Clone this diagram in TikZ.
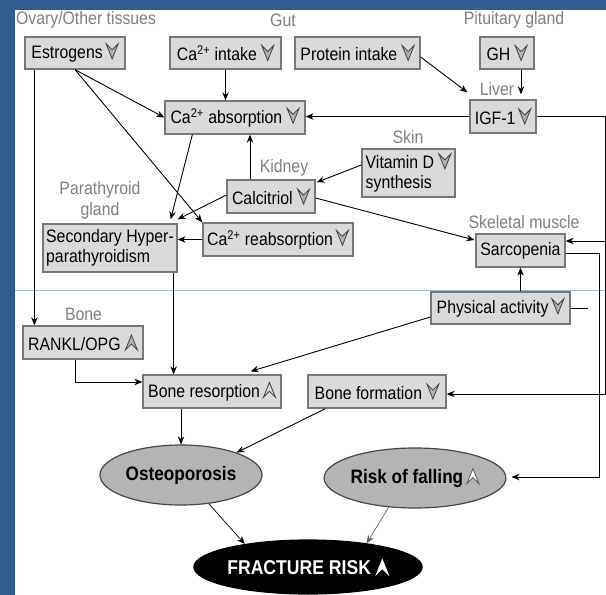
\documentclass[tikz,border=0pt]{standalone}
\usepackage{fontspec}
\setmainfont{Liberation Sans}[FakeStretch=0.88]
\usetikzlibrary{arrows.meta,calc,shapes.geometric}
\definecolor{bgblue}{RGB}{50,92,142}
\definecolor{lblgray}{RGB}{128,128,128}
\definecolor{boxfill}{RGB}{218,218,218}
\definecolor{boxline}{RGB}{120,120,120}
\definecolor{ellfill}{RGB}{180,180,180}
\definecolor{faint}{RGB}{165,185,212}
\newcommand\dsym[1][gray!60]{\tikz[baseline=0pt,x=1pt,y=1pt]\filldraw[line width=0.8pt,draw=black!75,fill=#1,line join=miter](0,0)--(-6,15)--(0,9)--(6,15)--cycle;}
\newcommand\usym[2]{\tikz[baseline=0pt,x=1pt,y=1pt]\filldraw[line width=0.8pt,draw=#2,fill=#1,line join=miter](0,15)--(-6,0)--(0,6)--(6,0)--cycle;}
\begin{document}
\begin{tikzpicture}[x=1pt,y=-1pt,
  font=\fontsize{18}{20}\selectfont,
  box/.style={draw=boxline,fill=boxfill,line width=1.3pt,minimum height=33pt,inner sep=2pt},
  lbl/.style={text=lblgray,inner sep=0pt},
  ell/.style={ellipse,draw=gray!55!black,fill=ellfill,line width=1.2pt,inner sep=0pt,font=\fontsize{19.5}{21}\selectfont\bfseries},
  arr/.style={-{Stealth[length=8pt,width=6.5pt]},line width=0.9pt},
  con/.style={line width=0.9pt}]
\useasboundingbox (0,0) rectangle (606,595);
\fill[bgblue] (0,0) rectangle (606,595);
\fill[white] (15,10) rectangle (606,595);
\draw[faint,line width=0.8pt] (15,290) -- (606,290);

% labels
\node[lbl] (lovary) at (86,20) {Ovary/Other tissues};
\node[lbl] (lgut) at (283,20) {Gut};
\node[lbl] (lpit) at (514,20) {Pituitary gland};
\node[lbl] (lliver) at (497,89) {Liver};
\node[lbl] (lskin) at (408,137) {Skin};
\node[lbl] (lkid) at (284,168) {Kidney};
\node[lbl,align=center,font=\fontsize{18}{21}\selectfont] (lpara) at (100,200) {Parathyroid\\gland};
\node[lbl] (lskel) at (524,222) {Skeletal muscle};
\node[lbl] (lbone) at (83.5,314) {Bone};

% boxes
\node[box,minimum width=100pt,minimum height=32pt] (estr) at (75,53) {Estrogens\,\dsym};
\node[box,minimum width=111pt,minimum height=32pt] (caint) at (225.5,53) {Ca\textsuperscript{2+} intake \dsym};
\node[box,minimum width=125pt,minimum height=32pt] (prot) at (357.5,53) {Protein intake \dsym};
\node[box,minimum width=54pt,minimum height=32pt] (gh) at (507,53) {GH \dsym};
\node[box,minimum width=66pt] (igf) at (503,116.5) {IGF-1\,\dsym};
\node[box,minimum width=140pt] (caabs) at (235,117.5) {Ca\textsuperscript{2+} absorption \dsym};
\node[box,minimum width=88pt] (calc) at (271,196.5) {Calcitriol \dsym};
\node[box,minimum width=93pt,minimum height=48pt,align=left] (vitd) at (408.5,173) {Vitamin D \dsym\\synthesis};
\node[box,minimum width=150pt] (carea) at (278,239.5) {Ca\textsuperscript{2+} reabsorption\,\dsym};
\node[box,minimum width=134pt,minimum height=48pt,align=left] (sechyp) at (110,248) {Secondary Hyper-\\parathyroidism};
\node[box,minimum width=89pt] (sarc) at (520.5,250.5) {Sarcopenia};
\node[box,minimum width=139pt,minimum height=32pt] (phys) at (500.5,308) {Physical activity\,\dsym};
\node[box,minimum width=120pt] (rankl) at (83,342.5) {RANKL/OPG \usym{gray!60}{black!75}};
\node[box,minimum width=138pt] (bres) at (212,391.5) {Bone resorption\,\usym{gray!30}{black!75}};
\node[box,minimum width=138pt] (bform) at (377,391.5) {Bone formation \dsym};

% ellipses
\node[ell,minimum width=162pt,minimum height=60pt] (osteo) at (181,475) {Osteoporosis};
\node[ell,minimum width=161pt,minimum height=60pt] (risk) at (415,478) {Risk of falling\,\usym{white}{black!65}};
\node[ell,fill=black,draw=black,text=white,minimum width=209pt,minimum height=54pt,font=\fontsize{20}{22}\selectfont\bfseries] (fract) at (308,567) {FRACTURE RISK \usym{white}{white}};

% connectors
\draw[arr] (caint.south) -- (caint.south |- caabs.north);
\draw[arr] (estr.south) -- (caabs.west);
\draw[arr] (estr.south) -- (carea.north west);
\coordinate (ev) at ($(estr.south west)+(10,0)$);
\draw[arr] (ev) -- (ev |- rankl.north);
\coordinate (igfin) at ($(igf.north west)+(-2,-7)$);
\draw[arr] ($(prot.east)+(0,4)$) -- (igfin);
\coordinate (ghout) at ($(gh.south)+(14,0)$);
\draw[arr,shorten >=5pt] (ghout) -- (ghout |- igf.north);
\draw[arr] (igf.west) -- (igf.west -| caabs.east);
\coordinate (rx) at (605,0);
\draw[arr] (igf.east) -- (igf.east -| rx) |- ($(bform.east)+(0,2.5)$);
\coordinate (sarcin) at ($(sarc.east)+(0,-9.5)$);
\draw[arr] (sarcin -| rx) -- (sarcin);
\coordinate (cup) at (250,0);
\draw[arr] (calc.north -| cup) -- (caabs.south -| cup);
\draw[arr] ($(caabs.south west)+(28,0)$) -- ($(sechyp.north east)+(-7,-4)$);
\draw[arr] ($(calc.west)+(0,-1.5)$) -- ($(sechyp.north east)+(0,-4)$);
\draw[arr] (carea.west) -- (carea.west -| sechyp.east);
\draw[arr] ($(vitd.west)+(0,-8)$) -- ($(calc.north east)+(1,3)$);
\draw[arr] ($(calc.east)+(0,1.5)$) -- ($(sarc.west)+(-1,-10.5)$);
\draw[arr] (sarc.south |- phys.north) -- (sarc.south);
\coordinate (sh) at ($(sechyp.south east)+(-4,0)$);
\draw[arr] (sh) -- (sh |- bres.north);
\coordinate (rk) at ($(rankl.south west)+(53,0)$);
\draw[arr] (rk) |- ($(bres.west)+(0,-9.5)$);
\draw[arr] ($(phys.west)+(0,9)$) -- ($(bres.north east)+(-31,-3)$);
\coordinate (rx2) at (588,0);
\draw[arr] ($(sarc.east)+(0,2.5)$) -| ($(risk.east)+(93,-1)$) -- ($(risk.east)+(5,-1)$);
\draw[con] (phys.east) -- (phys.east -| rx2);
\draw[arr] (osteo.north |- bres.south) -- (osteo.north);
\draw[arr] ($(bform.south west)+(18,0)$) -- (osteo.22);
\draw[arr,line width=0.7pt] (osteo.-46) -- (fract.160);
\draw[arr,draw=gray!70!black,line width=0.6pt] (risk.-132) -- (fract.22);
\end{tikzpicture}
\end{document}
